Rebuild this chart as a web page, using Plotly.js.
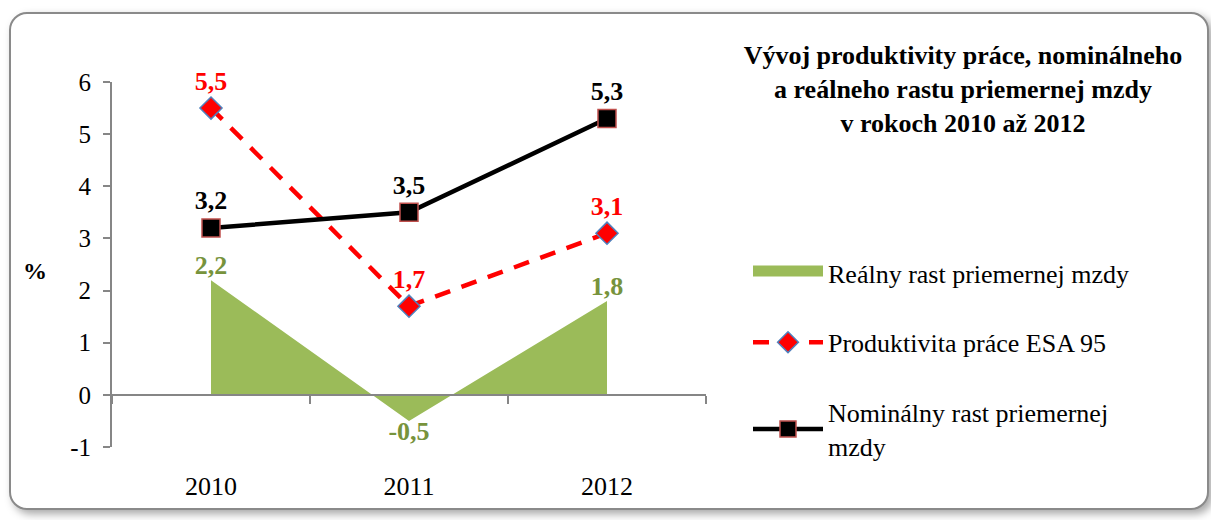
<!DOCTYPE html>
<html>
<head>
<meta charset="utf-8">
<script src="https://cdn.plot.ly/plotly-3.0.1.min.js"></script>
<style>
  html, body { margin: 0; padding: 0; background: #ffffff; }
  #frame {
    position: absolute; left: 9px; top: 12px; width: 1196px; height: 494px;
    border: 2.5px solid #8a8a8a; border-radius: 18px;
    box-shadow: 4px 4px 8px rgba(0,0,0,0.35);
    background: #ffffff;
  }
  #chart { position: absolute; left: 0; top: 0; width: 1211px; height: 520px; }
</style>
</head>
<body>
<div id="frame"></div>
<div id="chart"></div>
<script>
const years = ['2010', '2011', '2012'];
const realWage = [2.2, -0.5, 1.8];
const productivity = [5.5, 1.7, 3.1];
const nominalWage = [3.2, 3.5, 5.3];
const seriesNames = [
  'Reálny rast priemernej mzdy',
  'Produktivita práce ESA 95',
  'Nominálny rast priemernej<br>mzdy'
];
const yTicks = [-1, 0, 1, 2, 3, 4, 5, 6];
const yTickText = ['-1', '0', '1', '2', '3', '4', '5', '6'];
const titleText = 'Vývoj produktivity práce, nominálneho<br>a reálneho rastu priemernej mzdy<br>v rokoch 2010 až 2012';

const fmt = v => v.toFixed(1).replace('.', ',');
const serif = '"Liberation Serif", "Times New Roman", serif';
const green = '#9BBB59';

const traces = [
  {
    x: years, y: realWage, name: seriesNames[0], type: 'scatter',
    mode: 'lines+text', fill: 'tozeroy', fillcolor: green,
    line: { width: 0, color: green },
    text: realWage.map(fmt),
    textposition: realWage.map(v => v < 0 ? 'bottom center' : 'top center'),
    textfont: { family: serif, size: 26, color: '#77933C', weight: 'bold' },
    cliponaxis: false, showlegend: false, hoverinfo: 'skip'
  },
  {
    // legend entry only for the area series (no data drawn)
    x: [null], y: [null], name: seriesNames[0], type: 'scatter',
    mode: 'lines', fill: 'tozeroy', fillcolor: green,
    line: { width: 10, color: green },
    legendgroup: 'a', showlegend: true, hoverinfo: 'skip'
  },
  {
    x: years, y: productivity, name: seriesNames[1], type: 'scatter',
    mode: 'lines+markers+text',
    line: { color: '#FF0000', width: 4.5, dash: '16px,12px' },
    marker: { symbol: 'diamond', size: 17, color: '#FF0000', line: { color: '#4F81BD', width: 1.5 } },
    text: productivity.map(fmt), textposition: 'top center',
    textfont: { family: serif, size: 26, color: '#FF0000', weight: 'bold' },
    cliponaxis: false, legendgroup: 'b'
  },
  {
    x: years, y: nominalWage, name: seriesNames[2], type: 'scatter',
    mode: 'lines+markers+text',
    line: { color: '#000000', width: 4.5 },
    marker: { symbol: 'square', size: 18, color: '#000000', line: { color: '#C0504D', width: 1.5 } },
    text: nominalWage.map(fmt), textposition: 'top center',
    textfont: { family: serif, size: 26, color: '#000000', weight: 'bold' },
    cliponaxis: false, legendgroup: 'c'
  }
];

const layout = {
  width: 1211, height: 520,
  paper_bgcolor: 'rgba(0,0,0,0)', plot_bgcolor: 'rgba(0,0,0,0)',
  margin: { l: 112, r: 505, t: 82, b: 73 },
  font: { family: serif, size: 24, color: '#000000' },
  title: {
    text: titleText,
    font: { family: serif, size: 26, color: '#000000', weight: 'bold' },
    x: 963 / 1211, xanchor: 'center', xref: 'container',
    y: 1 - 64 / 520, yanchor: 'top', yref: 'container'
  },
  xaxis: {
    type: 'category', range: [-0.5, 2.5],
    anchor: 'free', position: 1 / 7,
    showline: true, linecolor: '#868686', linewidth: 2,
    ticks: 'outside', tickson: 'boundaries', ticklen: 8, tickwidth: 2, tickcolor: '#868686',
    ticklabelstandoff: 68,
    tickfont: { family: serif, size: 26, color: '#000000' },
    showgrid: false, zeroline: false, fixedrange: true
  },
  yaxis: {
    range: [-1, 6], tickvals: yTicks, ticktext: yTickText,
    showline: true, linecolor: '#868686', linewidth: 2,
    ticks: 'outside', ticklen: 7, tickwidth: 2, tickcolor: '#868686',
    tickfont: { family: serif, size: 25, color: '#000000' },
    ticklabelstandoff: 7,
    showgrid: false, zeroline: false, fixedrange: true
  },
  showlegend: true,
  legend: {
    x: (748 - 112) / 594, xanchor: 'left', y: (520 - 73 - 249) / 365, yanchor: 'top',
    font: { family: serif, size: 26, color: '#000000' },
    tracegroupgap: 33, traceorder: 'grouped', itemwidth: 70,
    bgcolor: 'rgba(0,0,0,0)'
  },
  annotations: [
    { text: '%', xref: 'paper', yref: 'paper', x: -77 / 594, y: (447 - 271) / 365,
      xanchor: 'center', yanchor: 'middle', showarrow: false,
      font: { family: serif, size: 24, color: '#000000', weight: 'bold' } }
  ]
};

Plotly.newPlot('chart', traces, layout, { staticPlot: true, displayModeBar: false });
</script>
</body>
</html>
